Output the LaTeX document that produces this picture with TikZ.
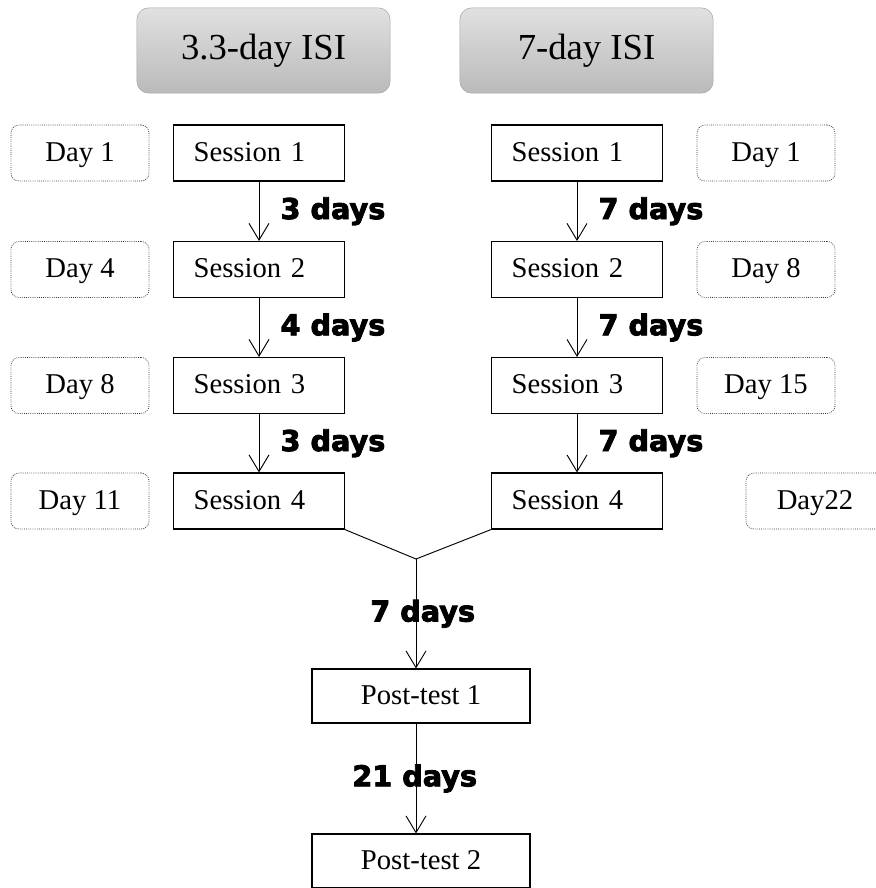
\documentclass[tikz,border=0pt]{standalone}
\usepackage{fontspec}
\setmainfont{Liberation Serif}
\newfontfamily\daysfont{DejaVu Sans Bold}[FakeBold=3]
\usetikzlibrary{arrows.meta,positioning}

\begin{document}
\begin{tikzpicture}[x=0.75pt, y=-0.75pt,
    every node/.style={font=\fontsize{21.5}{24}\selectfont},
    isi/.style={draw=black!35, rounded corners=9pt, top color=black!12, bottom color=black!27,
      minimum width=190pt, minimum height=64pt, font=\fontsize{27.5}{30}\selectfont},
    session/.style={draw, line width=0.8pt, text width=98pt, inner xsep=15pt,
      minimum height=42pt, align=left, text depth=2pt},
    daybox/.style={draw=black!80, densely dotted, line width=0.6pt, rounded corners=6pt,
      minimum width=103.5pt, minimum height=42pt, text depth=2pt},
    post/.style={draw, line width=0.8pt, minimum width=163.5pt, minimum height=40.5pt, text depth=2pt},
    gap/.style={font=\daysfont\fontsize{21.5}{24}\selectfont, inner sep=0pt},
    link/.style={line width=0.7pt, -{Straight Barb[length=12.5pt,width=15pt]}}]
    \useasboundingbox (0,0) rectangle (875,888);

    % headings
    \node[isi] (isiA) at (263.5,50.5) {3.3-day ISI};
    \node[isi] (isiB) at (586.5,50.5) {7-day ISI};

    % sessions and days
    \foreach \n/\y/\dA/\dB/\xB in {1/153/Day 1/Day 1/766, 2/269.5/Day 4/Day 8/766,
      3/385.5/Day 8/Day 15/766, 4/501/Day 11/Day22/815} {
      \node[session] (sA\n) at (259,\y) {Session \n};
      \node[session] (sB\n) at (577,\y) {Session \n};
      \node[daybox] (dA\n) at (80,\y) {\dA};
      \node[daybox] (dB\n) at (\xB,\y) {\dB};
    }

    % intervals
    \foreach \a/\b/\la/\lb in {1/2/3 days/7 days, 2/3/4 days/7 days, 3/4/3 days/7 days} {
      \draw[link] (sA\a) -- coordinate (mA\a) (sA\b);
      \draw[link] (sB\a) -- coordinate (mB\a) (sB\b);
      \node[gap, right=16pt of mA\a] (gA\a) {\la};
      \node[gap, right=16pt of mB\a] (gB\a) {\lb};
    }

    % post-tests
    \node[post] (pt1) at (421,696) {Post-test 1};
    \node[post] (pt2) at (421,861) {Post-test 2};

    \coordinate (join) at (416,559);
    \draw[line width=0.7pt] (sA4.south east) -- (join) -- (sB4.south west);
    \draw[link] (join) -- node[gap, xshift=5pt] (gP1) {7 days} (join |- pt1.north);
    \draw[link] (join |- pt1.south) -- node[gap, xshift=-1pt] (gP2) {21 days} (join |- pt2.north);
\end{tikzpicture}
\end{document}
